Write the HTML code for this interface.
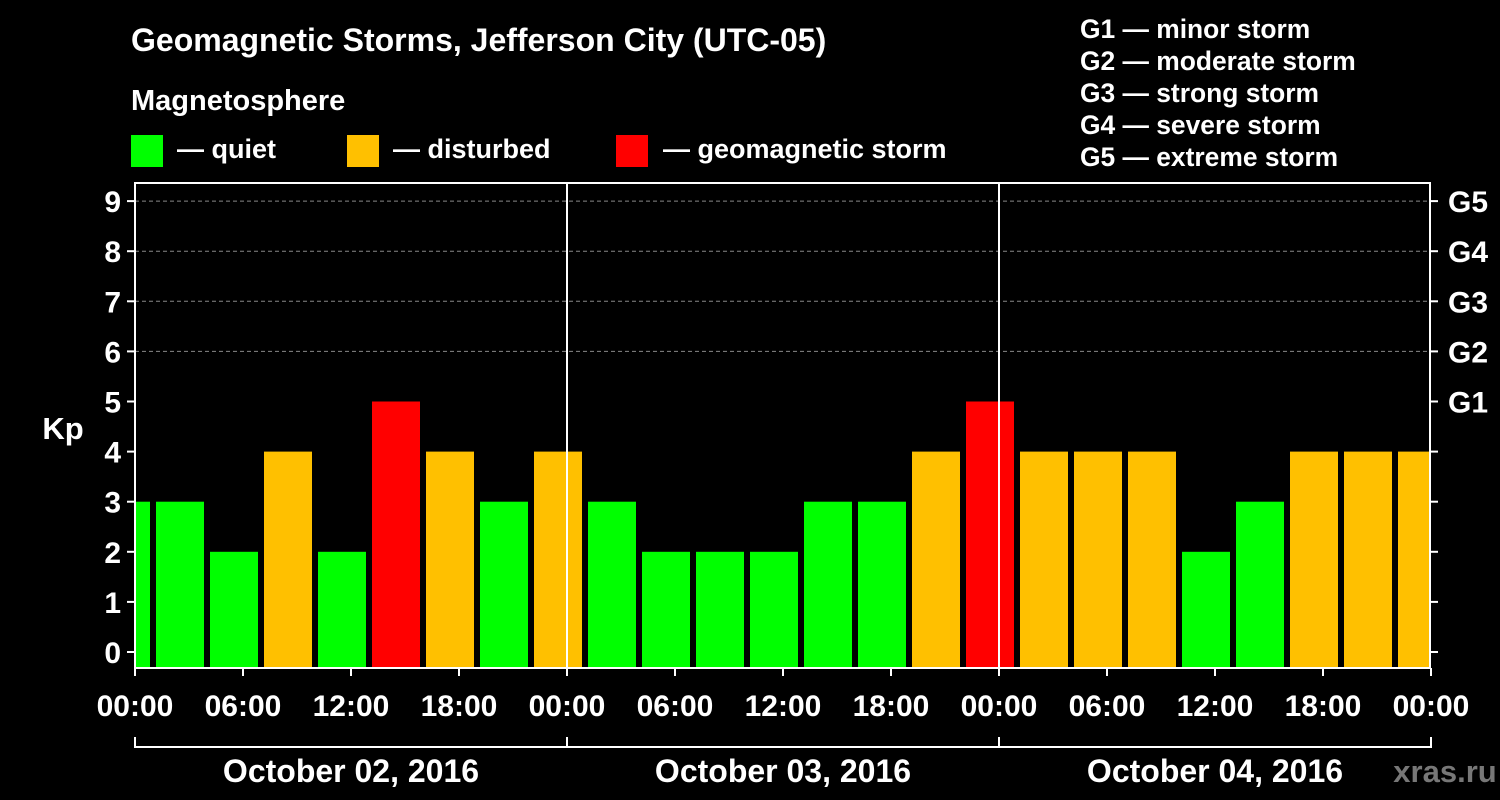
<!DOCTYPE html>
<html><head><meta charset="utf-8"><style>
html,body{margin:0;padding:0;background:#000;}
svg{display:block;font-family:"Liberation Sans",Arial,sans-serif;font-weight:bold;}
</style></head><body>
<svg id="chart" width="1500" height="800" viewBox="0 0 1500 800">
<text x="131" y="51" fill="#fff" font-size="32">Geomagnetic Storms, Jefferson City (UTC-05)</text>
<text x="131" y="110" fill="#fff" font-size="29">Magnetosphere</text>
<g><rect x="131" y="135" width="32" height="32" fill="#00ff00"/><text x="177" y="158" fill="#fff" font-size="27">— quiet</text></g>
<g><rect x="347" y="135" width="32" height="32" fill="#ffc000"/><text x="393" y="158" fill="#fff" font-size="27">— disturbed</text></g>
<g><rect x="616" y="135" width="32" height="32" fill="#ff0000"/><text x="663" y="158" fill="#fff" font-size="27">— geomagnetic storm</text></g>
<g fill="#fff" font-size="26.4">
<text x="1080" y="38">G1 — minor storm</text>
<text x="1080" y="70">G2 — moderate storm</text>
<text x="1080" y="102">G3 — strong storm</text>
<text x="1080" y="134">G4 — severe storm</text>
<text x="1080" y="166">G5 — extreme storm</text>
</g>
<text x="63" y="439" fill="#fff" font-size="31" text-anchor="middle">Kp</text>
<g id="bars"></g>
<g id="axes"></g>
<text x="1445" y="782" fill="#777" font-size="31" text-anchor="middle">xras.ru</text>
</svg>
<script>
const kpValues=[3,3,2,4,2,5,4,3,4,3,2,2,2,3,3,4,5,4,4,4,2,3,4,4,4];
const barHours=[-0.5,2.5,5.5,8.5,11.5,14.5,17.5,20.5,23.5,26.5,29.5,32.5,35.5,38.5,41.5,44.5,47.5,50.5,53.5,56.5,59.5,62.5,65.5,68.5,71.5];
const yTicks=[0,1,2,3,4,5,6,7,8,9];
const gLabels=["G1","G2","G3","G4","G5"];
const xTickHours=[0,6,12,18,24,30,36,42,48,54,60,66,72];
const xTickLabels=["00:00","06:00","12:00","18:00","00:00","06:00","12:00","18:00","00:00","06:00","12:00","18:00","00:00"];
const dayLabels=["October 02, 2016","October 03, 2016","October 04, 2016"];
const L=135,R=1430,T=183,B=668;
const xs=h=>L+h*18;
const ys=v=>652-v*50.1;
const NS="http://www.w3.org/2000/svg";
function mk(tag,attrs,parent){const e=document.createElementNS(NS,tag);for(const k in attrs)e.setAttribute(k,attrs[k]);parent.appendChild(e);return e;}
const bars=document.getElementById('bars'),axes=document.getElementById('axes');
mk('clipPath',{id:'pc'},bars).appendChild(document.createElementNS(NS,'rect'));
const cr=bars.querySelector('clipPath rect');cr.setAttribute('x',L);cr.setAttribute('y',T);cr.setAttribute('width',R-L);cr.setAttribute('height',B-T);
[6,7,8,9].forEach(v=>{const l=mk('line',{x1:L,x2:R,y1:ys(v),y2:ys(v),stroke:'#888','stroke-dasharray':'4,3'},axes);

});
const bg=mk('g',{'clip-path':'url(#pc)'},bars);
kpValues.forEach((v,i)=>{const c=v>=5?'#ff0000':(v>=4?'#ffc000':'#00ff00');
const x=xs(barHours[i])-24;
const r=mk('rect',{x:x,y:ys(v),width:48,height:B-ys(v),fill:c},bg);

});
const fr=mk('rect',{x:L,y:T,width:R-L,height:B-T,fill:'none',stroke:'#fff','stroke-width':2},axes);


[24,48].forEach(h=>{const l=mk('line',{x1:xs(h),x2:xs(h),y1:T,y2:B,stroke:'#fff','stroke-width':2},axes);

});
yTicks.forEach(v=>{mk('line',{x1:L-8,x2:L,y1:ys(v),y2:ys(v),stroke:'#fff','stroke-width':2},axes);
mk('line',{x1:R,x2:R+8,y1:ys(v),y2:ys(v),stroke:'#fff','stroke-width':2},axes);
const t=mk('text',{x:L-14,y:ys(v)+11,fill:'#fff','font-size':30,'text-anchor':'end'},axes);t.textContent=v;

});
gLabels.forEach((g,i)=>{const t=mk('text',{x:R+18,y:ys(5+i)+11,fill:'#fff','font-size':30},axes);t.textContent=g;

});
xTickHours.forEach((h,i)=>{mk('line',{x1:xs(h),x2:xs(h),y1:B,y2:B+8,stroke:'#fff','stroke-width':2},axes);
const t=mk('text',{x:xs(h),y:716,fill:'#fff','font-size':30,'text-anchor':'middle'},axes);t.textContent=xTickLabels[i];

});
mk('line',{x1:L,x2:R,y1:747,y2:747,stroke:'#fff','stroke-width':2},axes);
[0,24,48,72].forEach(h=>mk('line',{x1:xs(h),x2:xs(h),y1:737,y2:748,stroke:'#fff','stroke-width':2},axes));
dayLabels.forEach((d,i)=>{const t=mk('text',{x:xs(12+24*i),y:782,fill:'#fff','font-size':32,'text-anchor':'middle'},axes);t.textContent=d;

});
</script>
</body></html>
